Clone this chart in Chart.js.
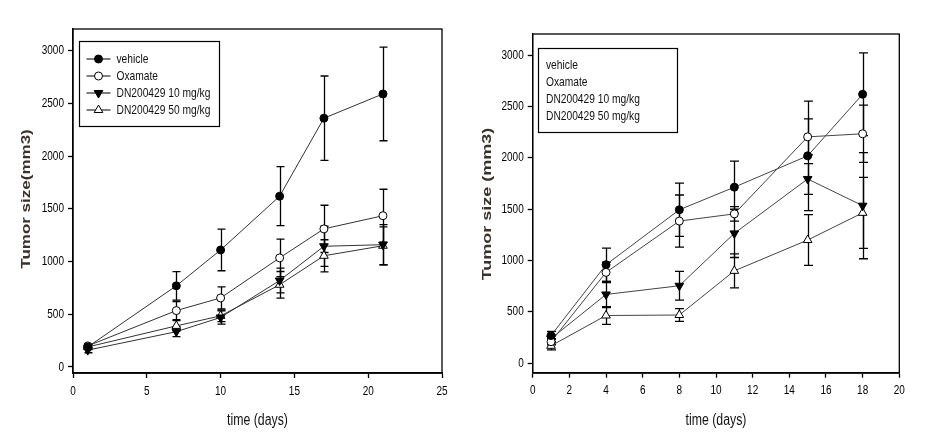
<!DOCTYPE html>
<html>
<head>
<meta charset="utf-8">
<script src="https://cdn.jsdelivr.net/npm/chart.js@4.4.1/dist/chart.umd.min.js"></script>
<style>
  html, body { margin: 0; padding: 0; background: #fff; }
  #wrap { position: relative; width: 947px; height: 441px; overflow: hidden; }
  canvas { position: absolute; top: 0; }
  #c1 { left: 0; }
  #c2 { left: 470px; }
</style>
</head>
<body>
<div id="wrap">
  <canvas id="c1" width="470" height="441"></canvas>
  <canvas id="c2" width="477" height="441"></canvas>
</div>
<script>
// ---------- data ----------
const seriesNames = ['vehicle', 'Oxamate', 'DN200429 10 mg/kg', 'DN200429 50 mg/kg'];

const leftDays = [1, 7, 10, 14, 17, 21];
const leftVehicle = [190, 770, 1110, 1620, 2360, 2590];
const leftVehicleErr = [25, 135, 197, 280, 400, 444];
const leftOxamate = [200, 535, 655, 1035, 1310, 1435];
const leftOxamateErr = [20, 86, 105, 177, 224, 251];
const leftDN10 = [160, 335, 470, 820, 1145, 1160];
const leftDN10Err = [25, 47, 63, 117, 190, 190];
const leftDN50 = [190, 390, 485, 780, 1055, 1150];
const leftDN50Err = [20, 50, 55, 126, 152, 180];
const leftXTicks = [0, 5, 10, 15, 20, 25];
const leftYTicks = [0, 500, 1000, 1500, 2000, 2500, 3000];

const rightDays = [1, 4, 8, 11, 15, 18];
const rightVehicle = [270, 960, 1495, 1715, 2020, 2620];
const rightVehicleErr = [40, 162, 260, 254, 533, 403];
const rightOxamate = [210, 885, 1385, 1455, 2205, 2235];
const rightOxamateErr = [30, 100, 254, 70, 175, 279];
const rightDN10 = [240, 670, 755, 1265, 1795, 1535];
const rightDN10Err = [35, 127, 140, 235, 150, 517];
const rightDN50 = [170, 465, 470, 900, 1200, 1465];
const rightDN50Err = [40, 87, 62, 165, 247, 346];
const rightXTicks = [0, 2, 4, 6, 8, 10, 12, 14, 16, 18, 20];
const rightYTicks = [0, 500, 1000, 1500, 2000, 2500, 3000];

const leftYTitle = 'Tumor size(mm3)';
const rightYTitle = 'Tumor size (mm3)';
const xTitle = 'time (days)';

// ---------- styling ----------
const FONT = '"Liberation Sans", Arial, sans-serif';
const SQUEEZE = 0.77; // narrow look of the original figure
Chart.defaults.font.family = FONT;
Chart.defaults.color = '#000';

const markerStyles = [
  { pointStyle: 'circle', radius: 4, rotation: 0, fill: '#000' },
  { pointStyle: 'circle', radius: 4, rotation: 0, fill: '#fff' },
  { pointStyle: 'triangle', radius: 5, rotation: 180, fill: '#000' },
  { pointStyle: 'triangle', radius: 5, rotation: 0, fill: '#fff' }
];

function pts(days, vals) { return days.map((d, i) => ({ x: d, y: vals[i] })); }

function makeDatasets(days, seriesList, errList, lineColor) {
  return seriesList.map((vals, k) => ({
    label: seriesNames[k],
    data: pts(days, vals),
    errors: errList[k],
    borderColor: lineColor,
    borderWidth: 1,
    showLine: true,
    tension: 0,
    pointStyle: markerStyles[k].pointStyle,
    pointRotation: markerStyles[k].rotation,
    pointRadius: markerStyles[k].radius,
    pointHoverRadius: markerStyles[k].radius,
    pointBackgroundColor: markerStyles[k].fill,
    pointBorderColor: '#000',
    pointBorderWidth: 1
  }));
}

function narrowText(ctx, text, x, y, align) {
  ctx.save();
  ctx.translate(x, y);
  ctx.scale(SQUEEZE, 1);
  ctx.textAlign = align;
  ctx.fillText(text, 0, 0);
  ctx.restore();
}

const errorBarPlugin = {
  id: 'errorBars',
  beforeDatasetsDraw(chart, args, opts) {
    const ctx = chart.ctx, xs = chart.scales.x, ys = chart.scales.y;
    const cap = opts.cap || 4;
    ctx.save();
    ctx.strokeStyle = '#000';
    ctx.lineWidth = 1.3;
    chart.data.datasets.forEach(ds => {
      ds.data.forEach((p, i) => {
        const e = ds.errors[i];
        const px = Math.round(xs.getPixelForValue(p.x)) + 0.5;
        const yt = ys.getPixelForValue(p.y + e);
        const yb = ys.getPixelForValue(p.y - e);
        ctx.beginPath();
        ctx.moveTo(px, yt); ctx.lineTo(px, yb);
        ctx.moveTo(px - cap, yt); ctx.lineTo(px + cap, yt);
        ctx.moveTo(px - cap, yb); ctx.lineTo(px + cap, yb);
        ctx.stroke();
      });
    });
    ctx.restore();
  }
};

const framePlugin = {
  id: 'frame',
  afterDraw(chart, args, opts) {
    const ctx = chart.ctx, a = chart.chartArea;
    const xs = chart.scales.x, ys = chart.scales.y;
    ctx.save();
    // box
    ctx.strokeStyle = '#000';
    ctx.lineWidth = 1.3;
    ctx.strokeRect(a.left, a.top, a.right - a.left, a.bottom - a.top);

    // tick labels (taken from the library's scales)
    ctx.fillStyle = '#000';
    ctx.font = '13px ' + FONT;
    ctx.textBaseline = 'middle';
    ys.ticks.forEach(t => {
      narrowText(ctx, String(t.value), a.left - 9, ys.getPixelForValue(t.value), 'right');
    });
    xs.ticks.forEach(t => {
      narrowText(ctx, String(t.value), xs.getPixelForValue(t.value), a.bottom + 18, 'center');
    });

    // legend box
    const L = opts.legend;
    ctx.lineWidth = 1.2;
    ctx.strokeRect(L.x, L.y, L.w, L.h);
    ctx.font = '13.3px ' + FONT;
    seriesNames.forEach((name, k) => {
      const ty = L.firstRow + k * L.rowGap;
      if (L.samples) {
        ctx.strokeStyle = '#000';
        ctx.lineWidth = 1;
        ctx.beginPath();
        ctx.moveTo(L.x + 7, ty); ctx.lineTo(L.x + 31, ty);
        ctx.stroke();
        ctx.fillStyle = markerStyles[k].fill;
        Chart.helpers.drawPoint(ctx, {
          pointStyle: markerStyles[k].pointStyle,
          radius: markerStyles[k].radius,
          rotation: markerStyles[k].rotation,
          borderWidth: 1
        }, L.x + 19, ty);
      }
      ctx.fillStyle = '#111';
      narrowText(ctx, name, L.textX, ty, 'left');
    });

    // axis titles
    const cx = (a.left + a.right) / 2;
    ctx.fillStyle = '#111';
    ctx.font = '16px ' + FONT;
    narrowText(ctx, xTitle, cx, opts.xTitleY, 'center');
    ctx.save();
    ctx.translate(opts.yTitleX, opts.yTitleY);
    ctx.scale(0.72, 1);
    ctx.rotate(-Math.PI / 2);
    ctx.font = 'bold ' + opts.yTitleSize + 'px ' + FONT;
    ctx.fillStyle = '#3a302c';
    ctx.textAlign = 'center';
    ctx.fillText(opts.yTitle, 0, 0);
    ctx.restore();
    ctx.restore();
  }
};

function makeChart(id, cfg) {
  return new Chart(document.getElementById(id), {
    type: 'line',
    data: { datasets: makeDatasets(cfg.days, cfg.series, cfg.errs, cfg.lineColor) },
    plugins: [errorBarPlugin, framePlugin],
    options: {
      responsive: false,
      animation: false,
      events: [],
      layout: { padding: { top: cfg.padTop, right: cfg.padRight, left: 0, bottom: 0 } },
      plugins: {
        legend: { display: false },
        tooltip: { enabled: false },
        errorBars: { cap: cfg.cap },
        frame: {
          legend: cfg.legend,
          xTitleY: 421,
          yTitleX: cfg.yTitleX,
          yTitleY: cfg.yTitleY,
          yTitle: cfg.yTitle,
          yTitleSize: cfg.yTitleSize
        }
      },
      scales: {
        x: {
          type: 'linear',
          min: cfg.xTicks[0],
          max: cfg.xTicks[cfg.xTicks.length - 1],
          afterFit(s) { s.height = cfg.xHeight; },
          afterBuildTicks(s) { s.ticks = cfg.xTicks.map(v => ({ value: v })); },
          grid: { drawOnChartArea: false, tickLength: 5, tickColor: '#000', tickWidth: 1.3 },
          border: { display: true, color: '#000', width: 1.8 },
          ticks: { display: false }
        },
        y: {
          type: 'linear',
          min: cfg.yMin,
          max: cfg.yMax,
          afterFit(s) { s.width = cfg.yWidth; },
          afterBuildTicks(s) { s.ticks = cfg.yTicks.map(v => ({ value: v })); },
          grid: { drawOnChartArea: false, tickLength: 5, tickColor: '#000', tickWidth: 1.3 },
          border: { display: true, color: '#000', width: 1.3 },
          ticks: { display: false }
        }
      }
    }
  });
}

makeChart('c1', {
  days: leftDays,
  series: [leftVehicle, leftOxamate, leftDN10, leftDN50],
  errs: [leftVehicleErr, leftOxamateErr, leftDN10Err, leftDN50Err],
  lineColor: '#333',
  xTicks: leftXTicks, yTicks: leftYTicks,
  yMin: -57, yMax: 3206,
  padTop: 29, padRight: 28, yWidth: 73, xHeight: 68,
  cap: 4,
  legend: { x: 79.5, y: 41.5, w: 140, h: 85, firstRow: 59, rowGap: 17, textX: 116.5, samples: true },
  yTitleX: 27, yTitleY: 199, yTitle: leftYTitle, yTitleSize: 17
});

makeChart('c2', {
  days: rightDays,
  series: [rightVehicle, rightOxamate, rightDN10, rightDN50],
  errs: [rightVehicleErr, rightOxamateErr, rightDN10Err, rightDN50Err],
  lineColor: '#444',
  xTicks: rightXTicks, yTicks: rightYTicks,
  yMin: -92, yMax: 3207,
  padTop: 34, padRight: 47.7, yWidth: 62.7, xHeight: 68.3,
  cap: 4.5,
  legend: { x: 68.5, y: 48.5, w: 139, h: 84, firstRow: 65, rowGap: 17, textX: 76, samples: false },
  yTitleX: 17, yTitleY: 204, yTitle: rightYTitle, yTitleSize: 18
});
</script>
</body>
</html>
